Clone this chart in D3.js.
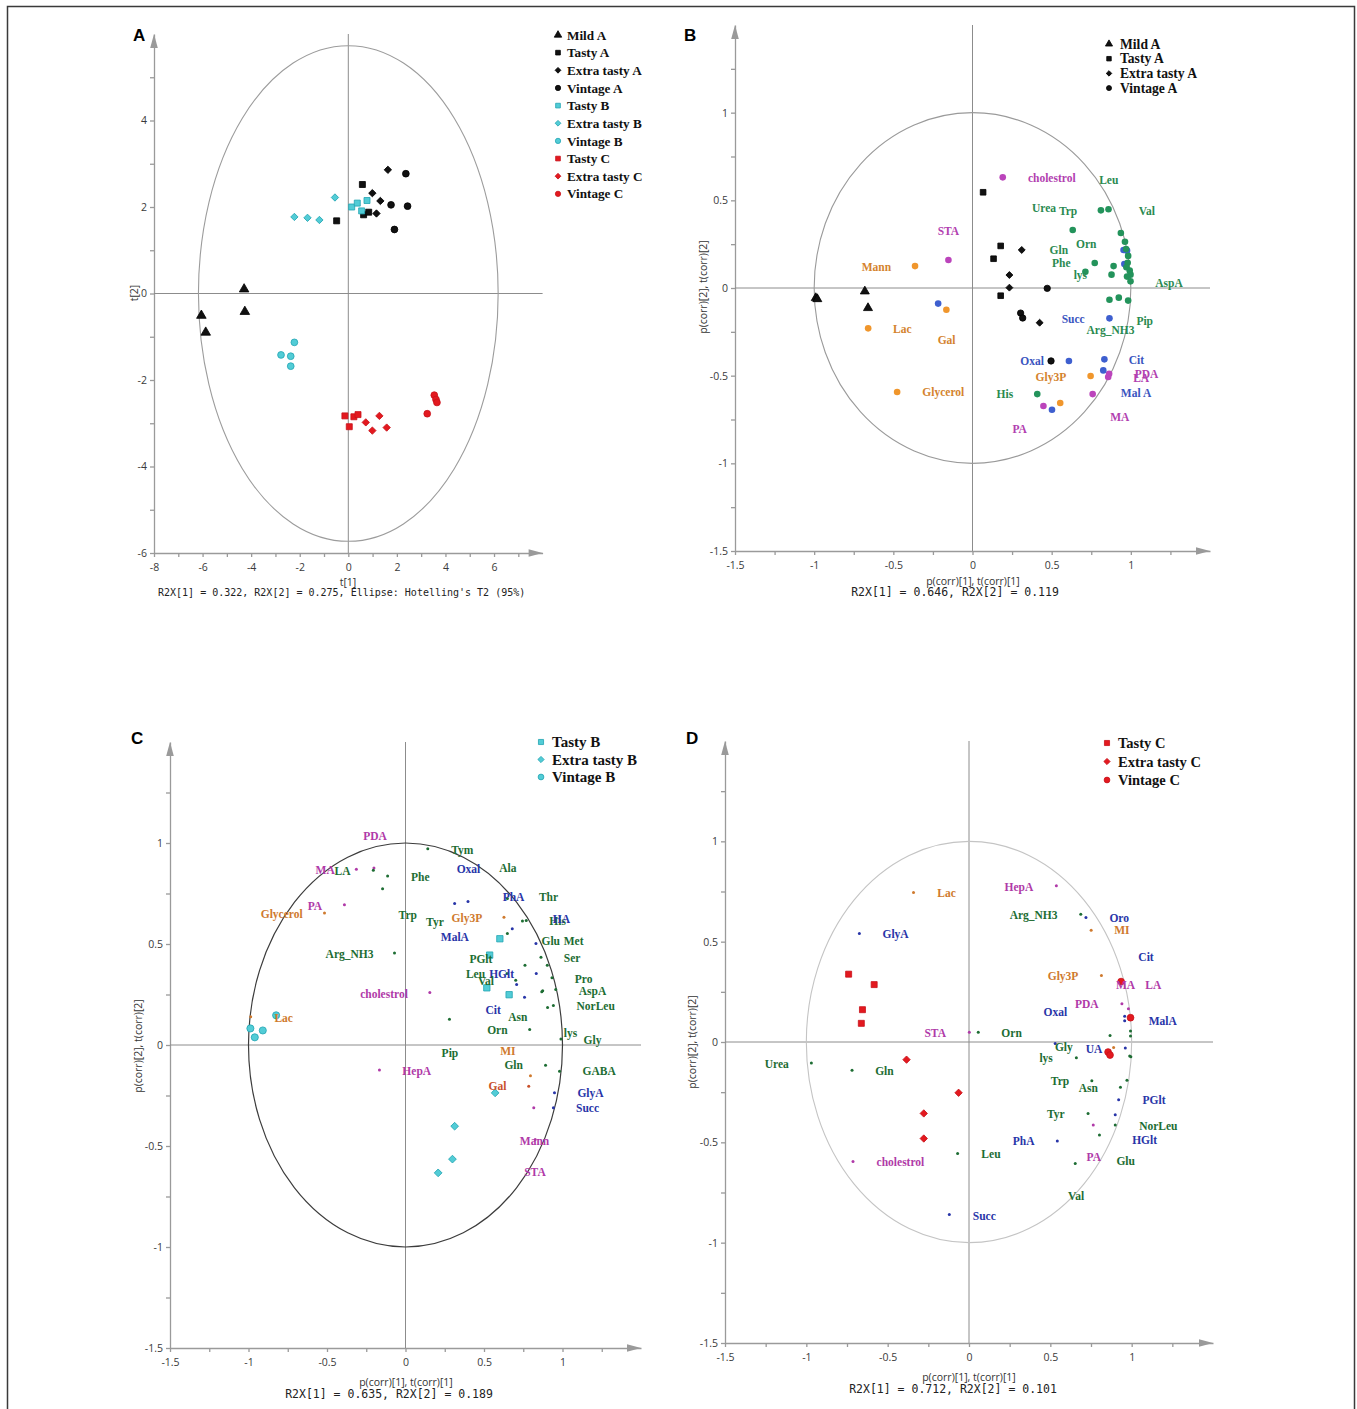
<!DOCTYPE html>
<html>
<head>
<meta charset="utf-8">
<script src="https://cdn.jsdelivr.net/npm/d3@7"></script>
<style>
  body { margin: 0; background: #fff; }
  svg { display: block; }
</style>
</head>
<body>
<script>
// ---------- panel A : score plot ----------
const scoreGroups = ["Mild A", "Tasty A", "Extra tasty A", "Vintage A", "Tasty B", "Extra tasty B", "Vintage B", "Tasty C", "Extra tasty C", "Vintage C"]
const scoreShapes = ["triangle", "square", "diamond", "circle", "square", "diamond", "circle", "square", "diamond", "circle"]
const scoreColours = ["k", "k", "k", "k", "c", "c", "c", "r", "r", "r"]
const scoreT1 = [
  [-6.05, -5.87, -4.26, -4.29],
  [0.58, -0.48, 0.63, 0.84],
  [1.63, 0.99, 1.32, 1.16],
  [2.37, 1.76, 2.44, 1.90],
  [0.14, 0.37, 0.77, 0.55],
  [-0.55, -2.22, -1.68, -1.19],
  [-2.22, -2.77, -2.37, -2.37],
  [-0.14, 0.04, 0.23, 0.40],
  [0.72, 0.99, 1.28, 1.58],
  [3.54, 3.61, 3.65, 3.25]
]
const scoreT2 = [
  [-0.51, -0.90, -0.42, 0.10],
  [2.52, 1.68, 1.82, 1.88],
  [2.86, 2.32, 2.14, 1.85],
  [2.77, 2.05, 2.02, 1.48],
  [2.00, 2.09, 2.15, 1.91],
  [2.22, 1.77, 1.75, 1.70],
  [-1.13, -1.42, -1.45, -1.68],
  [-2.83, -3.08, -2.85, -2.80],
  [-2.98, -3.17, -2.83, -3.10],
  [-2.35, -2.45, -2.52, -2.78]
]
const scoreEllipse = [6.17, 5.73]   // Hotelling T2 half axes

// ---------- panel B : loadings + A samples ----------
const bGroups = ["Mild A", "Tasty A", "Extra tasty A", "Vintage A"]
const bShapes = ["triangle", "square", "diamond", "circle"]
const bGroupX = [[-0.99, -0.98, -0.68, -0.66], [0.067, 0.178, 0.133, 0.178], [0.311, 0.233, 0.233, 0.424], [0.472, 0.304, 0.317, 0.496]]
const bGroupY = [[-0.057, -0.063, -0.019, -0.114], [0.546, 0.240, 0.167, -0.044], [0.217, 0.074, 0.002, -0.198], [-0.002, -0.143, -0.171, -0.416]]
const bDotX = [0.191, -0.152, 0.863, 0.857, 0.759, 0.448,
  -0.363, -0.165, -0.659, -0.476, 0.746, 0.554,
  -0.217, 0.954, 0.976, 0.959, 0.865, 0.609, 0.833, 0.826, 0.502,
  0.633, 0.811, 0.859, 0.937, 0.963, 0.970, 0.983, 0.980, 0.972, 0.993, 0.998, 0.976, 0.998, 0.772, 0.713, 0.891, 0.878, 0.865, 0.924, 0.983, 0.409]
const bDotY = [0.631, 0.160, -0.489, -0.508, -0.605, -0.673,
  0.125, -0.124, -0.230, -0.593, -0.502, -0.656,
  -0.089, 0.217, 0.213, 0.137, -0.173, -0.416, -0.407, -0.470, -0.694,
  0.331, 0.443, 0.449, 0.314, 0.264, 0.222, 0.183, 0.144, 0.118, 0.099, 0.076, 0.065, 0.038, 0.143, 0.093, 0.125, 0.076, -0.067, -0.055, -0.072, -0.605]
const bDotC = ["m", "m", "m", "m", "m", "m",
  "o", "o", "o", "o", "o", "o",
  "b", "b", "b", "b", "b", "b", "b", "b", "b",
  "g", "g", "g", "g", "g", "g", "g", "g", "g", "g", "g", "g", "g", "g", "g", "g", "g", "g", "g", "g", "g"]
const bLabName = ["cholestrol", "Leu", "Urea", "Trp", "Val", "STA", "Orn", "Gln", "Phe", "lys", "Mann", "AspA", "Succ", "Pip", "Arg_NH3", "Lac", "Gal", "Oxal", "Cit", "Gly3P", "PDA", "LA", "Glycerol", "His", "Mal A", "MA", "PA"]
const bLabX = [0.35, 0.80, 0.376, 0.546, 1.05, -0.22, 0.654, 0.487, 0.502, 0.639, -0.70, 1.154, 0.563, 1.035, 0.72, -0.502, -0.22, 0.302, 0.987, 0.398, 1.024, 1.015, -0.317, 0.152, 0.937, 0.87, 0.252]
const bLabY = [0.627, 0.616, 0.456, 0.441, 0.441, 0.327, 0.251, 0.217, 0.141, 0.072, 0.122, 0.030, -0.177, -0.188, -0.240, -0.234, -0.295, -0.418, -0.409, -0.506, -0.492, -0.511, -0.595, -0.607, -0.601, -0.738, -0.806]
const bLabC = ["m", "g", "g", "g", "g", "m", "g", "g", "g", "g", "o", "g", "b", "g", "g", "o", "o", "b", "b", "o", "m", "m", "o", "g", "b", "m", "m"]

// ---------- panel C : loadings + B samples ----------
const cGroups = ["Tasty B", "Extra tasty B", "Vintage B"]
const cShapes = ["square", "diamond", "circle"]
const cGroupX = [[0.601, 0.536, 0.518, 0.660], [0.571, 0.313, 0.299, 0.208], [-0.988, -0.960, -0.909, -0.824]]
const cGroupY = [[0.526, 0.445, 0.283, 0.249], [-0.237, -0.402, -0.565, -0.633], [0.082, 0.038, 0.072, 0.147]]
const cDotX = [-0.313, -0.201, -0.389, 0.155, -0.166, 0.817, 0.826,
  -0.516, 0.627, -0.986, 0.796, 0.785,
  0.142, -0.205, -0.114, -0.146, -0.070, 0.649, 0.745, 0.769, 0.649, 0.863, 0.761, 0.903, 0.933, 0.702, 0.874, 0.868, 0.957, 0.942, 0.905, 0.280, 0.791, 0.990, 0.647, 0.892, 0.981,
  0.313, 0.398, 0.680, 0.831, 0.833, 0.708, 0.758, 0.949, 0.942]
const cDotY = [0.870, 0.876, 0.694, 0.260, -0.124, -0.311, -0.468,
  0.654, 0.633, 0.140, -0.152, -0.204,
  0.972, 0.865, 0.837, 0.774, 0.456, 0.725, 0.614, 0.616, 0.552, 0.435, 0.395, 0.395, 0.333, 0.321, 0.269, 0.264, 0.275, 0.196, 0.186, 0.128, 0.077, 0.030, 0.354, -0.100, -0.130,
  0.700, 0.710, 0.575, 0.502, 0.354, 0.300, 0.237, -0.237, -0.311]
const cDotC = ["m", "m", "m", "m", "m", "m", "m",
  "o", "o", "o", "o", "x",
  "g", "g", "g", "g", "g", "g", "g", "g", "g", "g", "g", "g", "g", "g", "g", "g", "g", "g", "g", "g", "g", "g", "g", "g", "g",
  "b", "b", "b", "b", "b", "b", "b", "b", "b"]
const cLabName = ["PDA", "Tym", "MA", "LA", "Phe", "Oxal", "Ala", "PhA", "Thr", "PA", "Glycerol", "Trp", "Tyr", "Gly3P", "His", "HA", "MalA", "Glu", "Met", "Arg_NH3", "PGlt", "Ser", "Leu", "HGlt", "Val", "Pro", "AspA", "cholestrol", "NorLeu", "Cit", "Asn", "Lac", "Orn", "lys", "Gly", "Pip", "MI", "Gln", "GABA", "HepA", "Gal", "GlyA", "Succ", "Mann", "STA"]
const cLabX = [-0.269, 0.291, -0.573, -0.452, 0.035, 0.326, 0.597, 0.619, 0.85, -0.623, -0.922, -0.044, 0.131, 0.293, 0.916, 0.938, 0.225, 0.866, 1.008, -0.509, 0.407, 1.008, 0.385, 0.533, 0.461, 1.078, 1.104, -0.289, 1.089, 0.509, 0.654, -0.835, 0.52, 1.008, 1.134, 0.23, 0.603, 0.63, 1.128, -0.02, 0.529, 1.095, 1.086, 0.728, 0.756]
const cLabY = [1.033, 0.967, 0.868, 0.862, 0.832, 0.870, 0.878, 0.733, 0.735, 0.690, 0.651, 0.646, 0.611, 0.629, 0.613, 0.623, 0.537, 0.514, 0.514, 0.451, 0.428, 0.432, 0.353, 0.353, 0.316, 0.329, 0.269, 0.255, 0.193, 0.171, 0.137, 0.135, 0.074, 0.058, 0.023, -0.040, -0.031, -0.100, -0.130, -0.127, -0.204, -0.239, -0.313, -0.473, -0.631]
const cLabC = ["m", "g", "m", "g", "g", "b", "g", "b", "g", "m", "o", "g", "g", "o", "g", "b", "b", "g", "g", "g", "g", "g", "g", "b", "g", "g", "g", "m", "g", "b", "g", "o", "g", "g", "g", "g", "o", "g", "g", "m", "x", "b", "b", "m", "m"]

// ---------- panel D : loadings + C samples ----------
const dGroups = ["Tasty C", "Extra tasty C", "Vintage C"]
const dShapes = ["square", "diamond", "circle"]
const dGroupX = [[-0.740, -0.583, -0.655, -0.662], [-0.384, -0.064, -0.278, -0.278], [0.993, 0.935, 0.855, 0.867]]
const dGroupY = [[0.338, 0.286, 0.161, 0.093], [-0.088, -0.253, -0.356, -0.481], [0.121, 0.301, -0.050, -0.065]]
const dDotX = [-0.341, 0.751, 0.814, 0.889,
  0.537, 0.002, 0.940, 0.980, -0.713, 0.764,
  -0.674, 0.719, 0.957, 0.957, 0.530, 0.961, 0.920, 0.899, 0.543, -0.121,
  0.687, 0.057, 0.867, 0.993, 0.993, -0.969, -0.719, 0.660, 0.988, 0.995, 0.755, 0.931, 0.971, 0.732, 0.899, 0.802, -0.070, 0.653]
const dDotY = [0.745, 0.557, 0.331, -0.028,
  0.779, 0.048, 0.191, 0.166, -0.596, -0.414,
  0.541, 0.621, 0.106, 0.128, -0.008, -0.030, -0.288, -0.363, -0.493, -0.860,
  0.637, 0.048, 0.032, 0.055, 0.030, -0.105, -0.141, -0.078, -0.070, -0.073, -0.193, -0.225, -0.191, -0.356, -0.413, -0.464, -0.556, -0.606]
const dDotC = ["o", "o", "o", "o",
  "m", "m", "m", "m", "m", "m",
  "b", "b", "b", "b", "b", "b", "b", "b", "b", "b",
  "g", "g", "g", "g", "g", "g", "g", "g", "g", "g", "g", "g", "g", "g", "g", "g", "g", "g"]
const dLabName = ["Lac", "HepA", "Arg_NH3", "Oro", "MI", "GlyA", "Cit", "Gly3P", "MA", "LA", "PDA", "Oxal", "MalA", "STA", "Orn", "Gly", "UA", "lys", "Urea", "Gln", "Trp", "Asn", "PGlt", "Tyr", "NorLeu", "HGlt", "PhA", "Leu", "PA", "Glu", "cholestrol", "Val", "Succ"]
const dLabX = [-0.195, 0.218, 0.25, 0.863, 0.893, -0.532, 1.041, 0.484, 0.903, 1.084, 0.651, 0.458, 1.105, -0.274, 0.199, 0.528, 0.717, 0.433, -1.256, -0.577, 0.503, 0.674, 1.067, 0.479, 1.046, 1.003, 0.269, 0.076, 0.723, 0.906, -0.568, 0.609, 0.023]
const dLabY = [0.742, 0.775, 0.634, 0.617, 0.556, 0.537, 0.423, 0.329, 0.286, 0.286, 0.188, 0.150, 0.103, 0.045, 0.045, -0.027, -0.035, -0.082, -0.108, -0.143, -0.195, -0.230, -0.290, -0.359, -0.416, -0.488, -0.494, -0.559, -0.574, -0.591, -0.597, -0.767, -0.865]
const dLabC = ["o", "m", "g", "b", "o", "b", "b", "o", "m", "m", "m", "b", "b", "m", "g", "g", "b", "g", "g", "g", "g", "g", "b", "g", "g", "b", "b", "g", "m", "g", "m", "g", "b"]

// ticks
const scoreXTicks = d3.range(-8, 8, 1)
const scoreYTicks = d3.range(-6, 6, 1)
const corrTicks = d3.range(-1.5, 1.5, 0.25)

// colours
const sampleFill = { k: "#111", c: "#52ccd6", r: "#e3191f" }
const sampleStroke = { k: "#000", c: "#22a5b2", r: "#c8121a" }
const bDotColour = { g: "#23935b", b: "#3e5fcf", o: "#f0962c", m: "#bb44bb" }
const bLabColour = { g: "#2a8a50", b: "#3a55c0", o: "#d4832e", m: "#b23fb0" }
const cdColour = { g: "#1d6d33", b: "#2835a8", o: "#cf7a2e", m: "#b03aa8", x: "#c9502a" }

const axisGrey = "#9a9a9a"
const serif = "'Liberation Serif', 'Times New Roman', serif"
const sans = "'Open Sans', 'DejaVu Sans', sans-serif"
const mono = "'DejaVu Sans Mono', monospace"

let svg

const canvas = () => {
  svg = d3.select('body').append('svg').attr('width', 1357).attr('height', 1409)
  svg.append('rect').attr('x', 7.5).attr('y', 6.5).attr('width', 1347).attr('height', 1430)
    .attr('fill', 'none').attr('stroke', '#3a3a3a').attr('stroke-width', 1.5)
}

const markerPath = (shape, size) => {
  if (shape === 'triangle') return d3.symbol(d3.symbolTriangle, size * 1.1)()
  if (shape === 'circle') return d3.symbol(d3.symbolCircle, size)()
  return d3.symbol(d3.symbolSquare, shape === 'diamond' ? size * 0.75 : size)()
}

// axes, arrows and zero lines for one panel
const appendAxes = (x, y, xt, yt, fmt, ellipse) => {
  let [x0, x1] = x.domain()
  let [y0, y1] = y.domain()
  let g = svg.append('g')

  let xAxis = d3.axisBottom(x).tickValues(xt).tickFormat(fmt).tickSize(4).tickPadding(7).tickSizeOuter(0)
  let yAxis = d3.axisLeft(y).tickValues(yt).tickFormat(fmt).tickSize(4).tickPadding(3).tickSizeOuter(0)

  g.append('g').attr('transform', 'translate(0,' + y(y0) + ')').call(xAxis)
  g.append('g').attr('transform', 'translate(' + x(x0) + ',0)').call(yAxis)
  g.selectAll('.domain, .tick line').attr('stroke', axisGrey).attr('stroke-width', 1.3)
  g.selectAll('.tick text').attr('font-family', sans).attr('font-size', 10.5).attr('fill', '#3a3a3a')

  // arrow heads
  g.append('path').attr('fill', axisGrey)
    .attr('d', 'M' + x(x1) + ',' + y(y0) + 'l-14,-3.8v7.6z')
  g.append('path').attr('fill', axisGrey)
    .attr('d', 'M' + x(x0) + ',' + y(y1) + 'l-3.8,14h7.6z')

  // zero lines
  g.append('line').attr('x1', x(x0)).attr('x2', x(x1)).attr('y1', y(0)).attr('y2', y(0))
    .attr('stroke', '#8c8c8c').attr('stroke-width', 1)
  g.append('line').attr('x1', x(0)).attr('x2', x(0)).attr('y1', y(y0)).attr('y2', y(y1))
    .attr('stroke', '#8c8c8c').attr('stroke-width', 1)

  g.append('ellipse').attr('cx', x(0)).attr('cy', y(0))
    .attr('rx', x(ellipse.rx) - x(0)).attr('ry', y(0) - y(ellipse.ry))
    .attr('fill', 'none').attr('stroke', ellipse.colour).attr('stroke-width', ellipse.width)
}

const appendTitles = (t) => {
  svg.append('text').text(t.letter).attr('x', t.letterPos[0]).attr('y', t.letterPos[1])
    .attr('font-family', "'Liberation Sans', Arial, sans-serif").attr('font-weight', 'bold').attr('font-size', 17)
  svg.append('text').text(t.xTitle).attr('x', t.xPos[0]).attr('y', t.xPos[1]).attr('dy', '0.35em')
    .attr('text-anchor', 'middle').attr('font-family', sans).attr('font-size', 10.5).attr('fill', '#333')
  svg.append('text').text(t.yTitle).attr('dy', '0.35em')
    .attr('transform', 'translate(' + t.yPos[0] + ',' + t.yPos[1] + ') rotate(-90)')
    .attr('text-anchor', 'middle').attr('font-family', sans).attr('font-size', 10.5).attr('fill', '#333')
  svg.append('text').text(t.caption).attr('x', t.capPos[0]).attr('y', t.capPos[1]).attr('dy', '0.35em')
    .attr('text-anchor', t.capAnchor).attr('font-family', mono).attr('font-size', t.capSize).attr('fill', '#222')
    .style('white-space', 'pre')
}

const appendLegend = (names, shapes, colours, pos, fontSize) => {
  let g = svg.append('g')
  names.forEach((name, i) => {
    let yy = pos.y + i * pos.step
    g.append('path').attr('d', markerPath(shapes[i], pos.size))
      .attr('transform', 'translate(' + pos.mx + ',' + yy + ')' + (shapes[i] === 'diamond' ? ' rotate(45)' : ''))
      .attr('fill', sampleFill[colours[i]]).attr('stroke', sampleStroke[colours[i]]).attr('stroke-width', 0.8)
    g.append('text').text(name).attr('x', pos.tx).attr('y', yy).attr('dy', '0.35em')
      .attr('font-family', serif).attr('font-weight', 'bold').attr('font-size', fontSize).attr('fill', '#111')
  })
}

const appendSamples = (x, y, gx, gy, shapes, colours, size) => {
  gx.forEach((xs, i) => {
    svg.append('g').selectAll('path').data(xs.map((v, j) => [v, gy[i][j]])).enter().append('path')
      .attr('d', markerPath(shapes[i], size))
      .attr('transform', d => 'translate(' + x(d[0]) + ',' + y(d[1]) + ')' + (shapes[i] === 'diamond' ? ' rotate(45)' : ''))
      .attr('fill', sampleFill[colours[i]]).attr('stroke', sampleStroke[colours[i]]).attr('stroke-width', 0.8)
  })
}

const appendDots = (x, y, dx, dy, dc, palette, r) => {
  svg.append('g').selectAll('circle').data(dx.map((v, i) => [v, dy[i], dc[i]])).enter().append('circle')
    .attr('cx', d => x(d[0])).attr('cy', d => y(d[1])).attr('r', r)
    .attr('fill', d => palette[d[2]])
}

const appendLabels = (x, y, names, lx, ly, lc, palette) => {
  svg.append('g').selectAll('text').data(names.map((n, i) => [n, lx[i], ly[i], lc[i]])).enter().append('text')
    .text(d => d[0]).attr('x', d => x(d[1])).attr('y', d => y(d[2])).attr('dy', '0.35em')
    .attr('font-family', serif).attr('font-weight', 'bold').attr('font-size', 11.5)
    .attr('fill', d => palette[d[3]])
}

const corrFmt = d => Number.isInteger(d * 2) ? String(d) : ''
const scoreFmt = d => d % 2 === 0 ? String(d) : ''

// panel A
const panelA = () => {
  let x = d3.scaleLinear().domain([-8, 8]).range([154, 542.6])
  let y = d3.scaleLinear().domain([-6, 6]).range([553, 34])
  appendAxes(x, y, scoreXTicks, scoreYTicks, scoreFmt, { rx: scoreEllipse[0], ry: scoreEllipse[1], colour: '#9c9c9c', width: 1.1 })
  appendSamples(x, y, scoreT1, scoreT2, scoreShapes, scoreColours, 36)
  appendLegend(scoreGroups, scoreShapes, scoreColours, { mx: 558, tx: 567, y: 35, step: 17.65, size: 22 }, 13.2)
  appendTitles({
    letter: 'A', letterPos: [133, 41], xTitle: 't[1]', xPos: [348, 582], yTitle: 't[2]', yPos: [134, 293],
    caption: "R2X[1] = 0.322, R2X[2] = 0.275, Ellipse: Hotelling's T2 (95%)", capPos: [158, 592], capAnchor: 'start', capSize: 10
  })
}

// panel B
const panelB = () => {
  let x = d3.scaleLinear().domain([-1.5, 1.5]).range([735, 1210])
  let y = d3.scaleLinear().domain([-1.5, 1.5]).range([551, 25])
  appendAxes(x, y, corrTicks, corrTicks, corrFmt, { rx: 1, ry: 1, colour: '#9a9a9a', width: 1.1 })
  appendDots(x, y, bDotX, bDotY, bDotC, bDotColour, 3.3)
  appendSamples(x, y, bGroupX, bGroupY, bShapes, ["k", "k", "k", "k"], 32)
  appendLabels(x, y, bLabName, bLabX, bLabY, bLabC, bLabColour)
  appendLegend(bGroups, bShapes, ["k", "k", "k", "k"], { mx: 1109, tx: 1120, y: 44, step: 14.7, size: 20 }, 13.6)
  appendTitles({
    letter: 'B', letterPos: [684, 41], xTitle: 'p(corr)[1], t(corr)[1]', xPos: [973, 581], yTitle: 'p(corr)[2], t(corr)[2]', yPos: [703, 287],
    caption: 'R2X[1] = 0.646, R2X[2] = 0.119', capPos: [955, 592], capAnchor: 'middle', capSize: 11.5
  })
}

// panel C
const panelC = () => {
  let x = d3.scaleLinear().domain([-1.5, 1.5]).range([170, 641])
  let y = d3.scaleLinear().domain([-1.5, 1.5]).range([1348, 742])
  appendAxes(x, y, corrTicks, corrTicks, corrFmt, { rx: 1, ry: 1, colour: '#3c3c3c', width: 1.2 })
  appendDots(x, y, cDotX, cDotY, cDotC, cdColour, 1.5)
  appendSamples(x, y, cGroupX, cGroupY, cShapes, ["c", "c", "c"], 40)
  appendLabels(x, y, cLabName, cLabX, cLabY, cLabC, cdColour)
  appendLegend(cGroups, cShapes, ["c", "c", "c"], { mx: 541, tx: 552, y: 742, step: 17.5, size: 26 }, 15)
  appendTitles({
    letter: 'C', letterPos: [131, 744], xTitle: 'p(corr)[1], t(corr)[1]', xPos: [406, 1382], yTitle: 'p(corr)[2], t(corr)[2]', yPos: [138, 1046],
    caption: 'R2X[1] = 0.635, R2X[2] = 0.189', capPos: [389, 1394], capAnchor: 'middle', capSize: 11.5
  })
}

// panel D
const panelD = () => {
  let x = d3.scaleLinear().domain([-1.5, 1.5]).range([725, 1213])
  let y = d3.scaleLinear().domain([-1.5, 1.5]).range([1343, 741])
  appendAxes(x, y, corrTicks, corrTicks, corrFmt, { rx: 1, ry: 1, colour: '#c4c4c4', width: 1.1 })
  appendDots(x, y, dDotX, dDotY, dDotC, cdColour, 1.5)
  appendSamples(x, y, dGroupX, dGroupY, dShapes, ["r", "r", "r"], 36)
  appendLabels(x, y, dLabName, dLabX, dLabY, dLabC, cdColour)
  appendLegend(dGroups, dShapes, ["r", "r", "r"], { mx: 1107, tx: 1118, y: 743, step: 18.5, size: 26 }, 14.5)
  appendTitles({
    letter: 'D', letterPos: [686, 744], xTitle: 'p(corr)[1], t(corr)[1]', xPos: [969, 1377], yTitle: 'p(corr)[2], t(corr)[2]', yPos: [692, 1042],
    caption: 'R2X[1] = 0.712, R2X[2] = 0.101', capPos: [953, 1389], capAnchor: 'middle', capSize: 11.5
  })
}

canvas()
panelA()
panelB()
panelC()
panelD()
</script>
</body>
</html>
